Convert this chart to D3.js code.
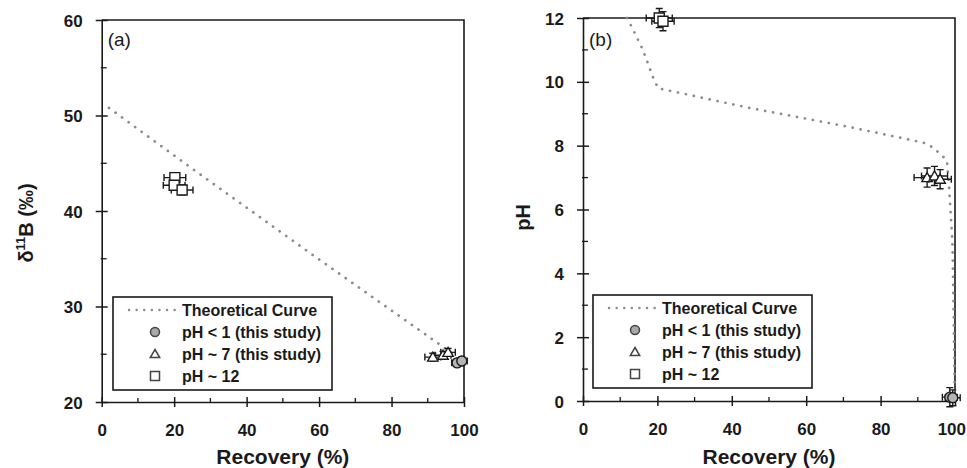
<!DOCTYPE html>
<html>
<head>
<meta charset="utf-8">
<script src="https://cdn.jsdelivr.net/npm/d3@7"></script>
<style>
  body { margin: 0; background: #fff; }
  svg { font-family: Arial, "Liberation Sans", sans-serif; }
</style>
</head>
<body>
<svg id="chart" width="967" height="468"></svg>
<script>
// ---- data ----
const recoveryTicks = [0, 20, 40, 60, 80, 100];
const d11bTicks = [20, 30, 40, 50, 60];
const phTicks = [0, 2, 4, 6, 8, 10, 12];

// [recovery %, value, recovery error, value error]
const acidA = [[98.1, 24.1, 1.5, 0.4], [99.4, 24.3, 1.5, 0.4]];
const neutralA = [[91.4, 24.7, 2.2, 0.4], [94.2, 24.9, 2.2, 0.4], [95.6, 25.2, 2.0, 0.4]];
const alkalineA = [[20.2, 43.5, 3.0, 0.5], [20.0, 42.7, 3.0, 0.5], [22.2, 42.2, 3.0, 0.5]];
const curveA = [[2, 50.8], [24, 44.7], [57.5, 35.6], [96, 25.3], [99, 24.3]];

const acidB = [[98.6, 0.12, 2.0, 0.3], [99.4, 0.1, 2.0, 0.25]];
const neutralB = [[92.5, 7.0, 3.5, 0.3], [94.5, 7.05, 3.5, 0.3], [96.0, 6.95, 3.0, 0.3]];
const alkalineB = [[20.5, 12.0, 3.5, 0.3], [21.5, 11.9, 3.0, 0.3]];
const curveB = [[11.8, 12], [13.2, 11.7], [16.1, 11.0], [18.8, 10.15], [20.2, 9.8], [44, 9.2],
  [71, 8.6], [91.4, 8.1], [94, 7.95], [97.8, 7.55], [98.3, 6.9], [99.3, 5], [99.6, 3], [99.9, 0.3]];

const legendLabels = ["Theoretical Curve", "pH < 1 (this study)", "pH ~ 7 (this study)", "pH ~ 12"];

const svg = d3.select("#chart");
const ink = "#1a1a1a";

function drawPanel(cfg) {
  const x = d3.scaleLinear().domain([0, 100]).range([cfg.left, cfg.right]);
  const y = d3.scaleLinear().domain(cfg.yDomain).range([cfg.bottom, cfg.top]);
  const g = svg.append("g");

  // frame (top and right)
  g.append("path")
    .attr("d", `M${cfg.left},${cfg.top}H${cfg.right}V${cfg.bottom}`)
    .attr("fill", "none").attr("stroke", ink).attr("stroke-width", 1.6);

  // x axis
  const xAxis = g.append("g").attr("transform", `translate(0,${cfg.bottom})`)
    .call(d3.axisBottom(x).tickValues(recoveryTicks).tickSize(0).tickPadding(0).tickFormat(d3.format("d")));
  xAxis.select(".domain").attr("stroke", ink).attr("stroke-width", 1.6);
  xAxis.selectAll(".tick text").attr("y", 34).attr("dy", 0)
    .attr("fill", ink).style("font-size", "17px").style("font-weight", "bold");
  // keep the last label inside the page, as the original does
  xAxis.selectAll(".tick text").each(function () {
    const b = this.getBBox();
    const tx = +this.parentNode.getAttribute("transform").match(/translate\(([-\d.]+)/)[1];
    const over = tx + b.x + b.width - 966;
    if (over > 0) d3.select(this).attr("x", -over);
  });
  xAxis.selectAll(".tick").append("line").attr("y1", -5).attr("y2", 5).attr("stroke", ink).attr("stroke-width", 1.5);
  g.selectAll(".xminor").data(d3.range(10, 100, 20)).join("line")
    .attr("x1", d => x(d)).attr("x2", d => x(d))
    .attr("y1", cfg.bottom - 4).attr("y2", cfg.bottom)
    .attr("stroke", ink).attr("stroke-width", 1.3);

  // y axis
  const yAxis = g.append("g").attr("transform", `translate(${cfg.left},0)`)
    .call(d3.axisLeft(y).tickValues(cfg.yTicks).tickSize(0).tickPadding(0).tickFormat(d3.format("d")));
  yAxis.select(".domain").attr("stroke", ink).attr("stroke-width", 1.6);
  yAxis.selectAll(".tick text").attr("x", -19).attr("dy", "0.36em")
    .attr("fill", ink).style("font-size", "17px").style("font-weight", "bold");
  yAxis.selectAll(".tick").append("line").attr("x1", -6).attr("x2", 6).attr("stroke", ink).attr("stroke-width", 1.5);
  g.selectAll(".yminor").data(cfg.yMinor).join("line")
    .attr("x1", cfg.left - 1).attr("x2", cfg.left + 5)
    .attr("y1", d => y(d)).attr("y2", d => y(d))
    .attr("stroke", ink).attr("stroke-width", 1.3);

  // axis titles
  g.append("text").attr("x", (cfg.left + cfg.right) / 2).attr("y", 464)
    .attr("text-anchor", "middle").attr("fill", ink)
    .style("font-size", "21px").style("font-weight", "bold").text("Recovery (%)");
  const yt = g.append("text")
    .attr("transform", `translate(${cfg.yTitleX},${(cfg.top + cfg.bottom) / 2 + cfg.yTitleShift}) rotate(-90)`)
    .attr("text-anchor", "middle").attr("fill", ink)
    .style("font-size", "20px").style("font-weight", "bold");
  cfg.yTitle(yt);

  // panel letter
  g.append("text").attr("x", cfg.left + 6).attr("y", 46).attr("fill", ink)
    .style("font-size", "19px").text(cfg.letter);

  // theoretical curve
  g.append("path").datum(cfg.curve)
    .attr("d", d3.line().x(d => x(d[0])).y(d => y(d[1])))
    .attr("fill", "none").attr("stroke", "#8a8a8a").attr("stroke-width", 2.7)
    .attr("stroke-linecap", "round").attr("stroke-dasharray", "0.1,8");

  // error bars + markers
  function series(data, shape) {
    const s = g.append("g");
    const cap = 3.5;
    data.forEach(d => {
      const cx = x(d[0]), cy = y(d[1]);
      const x0 = x(d[0] - d[2]), x1 = x(d[0] + d[2]);
      const y0 = y(d[1] - d[3]), y1 = y(d[1] + d[3]);
      const p = `M${x0},${cy}H${x1}M${x0},${cy - cap}V${cy + cap}M${x1},${cy - cap}V${cy + cap}` +
        `M${cx},${y0}V${y1}M${cx - cap},${y0}H${cx + cap}M${cx - cap},${y1}H${cx + cap}`;
      s.append("path").attr("d", p).attr("stroke", ink).attr("stroke-width", 1.4).attr("fill", "none");
    });
    s.selectAll(".m").data(data).join("path")
      .attr("transform", d => `translate(${x(d[0])},${y(d[1])})`)
      .attr("d", shapePath(shape, 10))
      .attr("fill", shape === "circle" ? "#b4b4b4" : "#fff")
      .attr("stroke", ink).attr("stroke-width", 1.4);
  }
  series(cfg.alkaline, "square");
  series(cfg.neutral, "triangle");
  series(cfg.acid, "circle");

  // legend
  const lg = g.append("g");
  lg.append("rect").attr("x", cfg.legend[0]).attr("y", cfg.legend[1])
    .attr("width", 219).attr("height", 93)
    .attr("fill", "#fff").attr("stroke", ink).attr("stroke-width", 1.6);
  const lx = cfg.legend[0], ly = cfg.legend[1];
  lg.append("line").attr("x1", lx + 16).attr("x2", lx + 66)
    .attr("y1", ly + 13).attr("y2", ly + 13)
    .attr("stroke", "#8a8a8a").attr("stroke-width", 2.4)
    .attr("stroke-linecap", "round").attr("stroke-dasharray", "0.1,7.5");
  const shapes = ["circle", "triangle", "square"];
  shapes.forEach((sh, i) => {
    lg.append("path").attr("transform", `translate(${lx + 42},${ly + 35 + i * 22})`)
      .attr("d", shapePath(sh, 9))
      .attr("fill", sh === "circle" ? "#a8a8a8" : "#fff")
      .attr("stroke", "#444").attr("stroke-width", 1.5);
  });
  legendLabels.forEach((t, i) => {
    lg.append("text").attr("x", lx + 69).attr("y", ly + 19 + i * 22)
      .attr("fill", ink).style("font-size", "16px").style("font-weight", "bold").text(t);
  });
}

function shapePath(shape, size) {
  const h = size / 2;
  if (shape === "circle") return d3.symbol(d3.symbolCircle, Math.PI * h * h)();
  if (shape === "square") return `M${-h},${-h}H${h}V${h}H${-h}Z`;
  return `M0,${-h}L${h * 1.05},${h * 0.8}H${-h * 1.05}Z`;
}

drawPanel({
  left: 101.7, right: 464, top: 20, bottom: 402,
  yDomain: [20, 60], yTicks: d11bTicks, yMinor: d3.range(25, 60, 10),
  yTitleX: 33, yTitleShift: 12, letter: "(a)",
  yTitle: t => {
    t.append("tspan").text("δ");
    t.append("tspan").attr("dy", -8).style("font-size", "13px").text("11");
    t.append("tspan").attr("dy", 8).text("B (‰)");
  },
  curve: curveA, acid: acidA, neutral: neutralA, alkaline: alkalineA,
  legend: [113, 297]
});

drawPanel({
  left: 583, right: 955, top: 18, bottom: 401,
  yDomain: [0, 12], yTicks: phTicks, yMinor: d3.range(1, 12, 2),
  yTitleX: 530, yTitleShift: 8, letter: "(b)",
  yTitle: t => t.text("pH"),
  curve: curveB, acid: acidB, neutral: neutralB, alkaline: alkalineB,
  legend: [593, 295]
});
</script>
</body>
</html>
